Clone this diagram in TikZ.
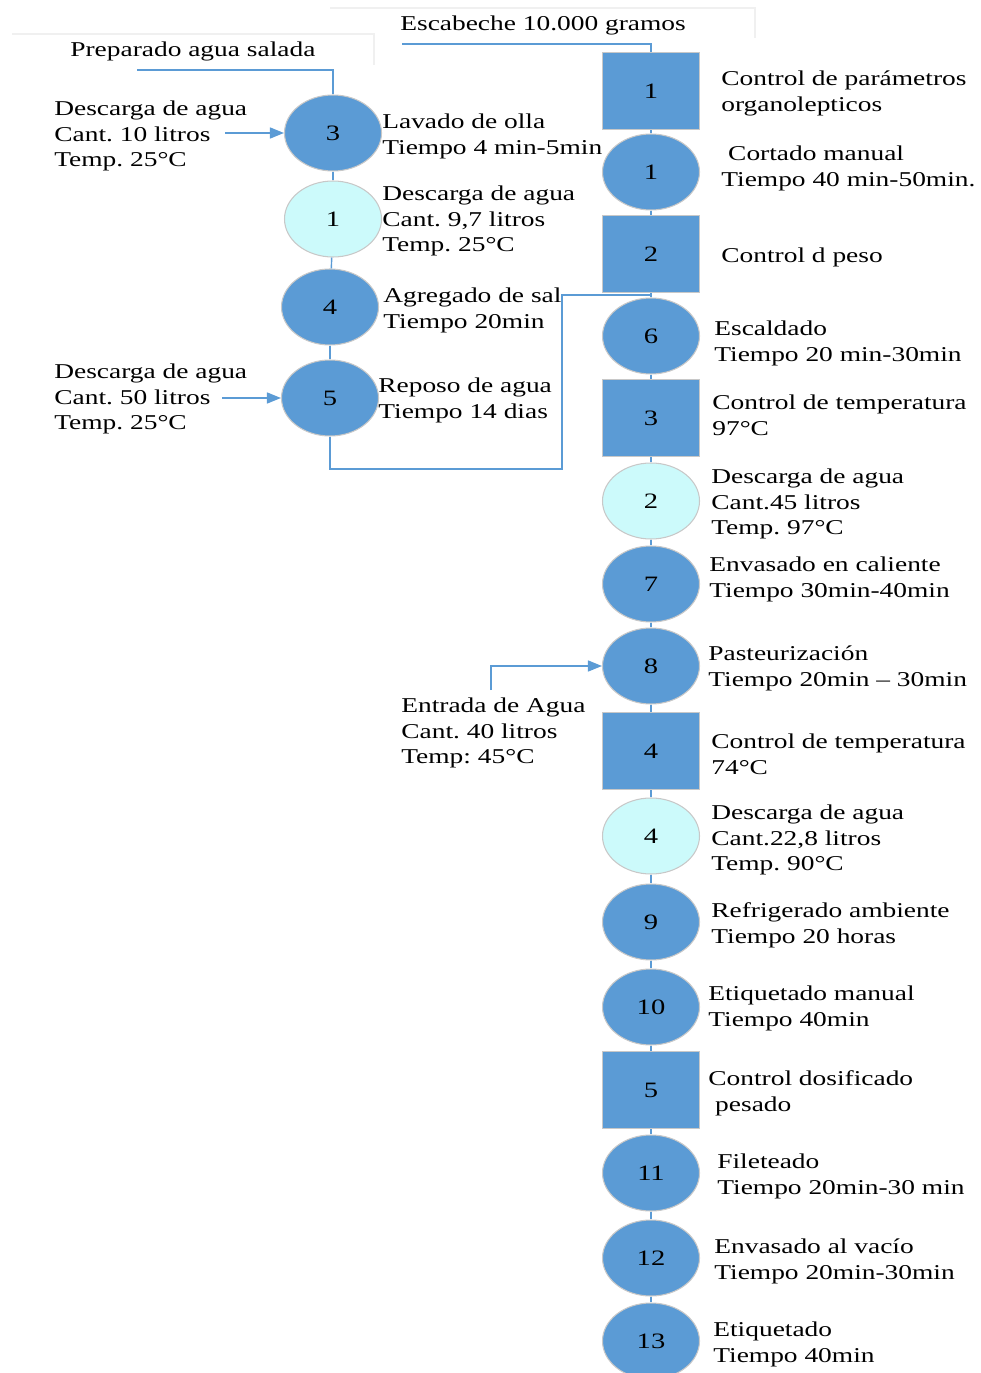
\documentclass[tikz,border=0pt]{standalone}
\usepackage{fontspec}
\setmainfont{Liberation Serif}[FakeStretch=1.3]
\frenchspacing
\usepackage{tikz}
\usetikzlibrary{arrows.meta, positioning, shapes.geometric}

\definecolor{stepblue}{HTML}{5B9BD5}
\definecolor{waterfill}{HTML}{CCFAFB}
\definecolor{rimgray}{HTML}{C8C8C8}

\begin{document}
\begin{tikzpicture}[
    proc/.style={ellipse, draw=rimgray, line width=0.6pt, fill=stepblue, minimum width=1.94cm, minimum height=1.52cm, inner sep=0pt, font=\fontsize{12.5}{14}\selectfont},
    discharge/.style={proc, fill=waterfill},
    check/.style={rectangle, draw=rimgray, line width=0.6pt, fill=stepblue, minimum width=1.94cm, minimum height=1.54cm, inner sep=0pt, font=\fontsize{12.5}{14}\selectfont},
    txt/.style={anchor=west, align=left, inner sep=0pt, yshift=-0.04cm, font=\fontsize{12}{14.74}\selectfont},
    link/.style={draw=stepblue, line width=0.8pt},
    flow/.style={link, -{Triangle[length=0.28cm, width=0.22cm]}},
    frame/.style={draw=gray!12, line width=0.6pt}
  ]
  \useasboundingbox (0,0) rectangle (19.6,-27.46);

  % faint text box borders
  \draw[frame] (0.24,-0.68) -- (7.48,-0.68) -- (7.48,-1.3);
  \draw[frame] (6.6,-0.16) -- (15.1,-0.16) -- (15.1,-0.76);

  % right column
  \node[check] (r-k1) at (13.02,-1.82) {1};
  \node[proc] (r-c1) at (13.02,-3.44) {1};
  \node[check] (r-k2) at (13.02,-5.08) {2};
  \node[proc] (r-c6) at (13.02,-6.72) {6};
  \node[check] (r-k3) at (13.02,-8.36) {3};
  \node[discharge] (r-d2) at (13.02,-10.02) {2};
  \node[proc] (r-c7) at (13.02,-11.68) {7};
  \node[proc] (r-c8) at (13.02,-13.32) {8};
  \node[check] (r-k4) at (13.02,-15.02) {4};
  \node[discharge] (r-d4) at (13.02,-16.72) {4};
  \node[proc] (r-c9) at (13.02,-18.44) {9};
  \node[proc] (r-c10) at (13.02,-20.14) {10};
  \node[check] (r-k5) at (13.02,-21.80) {5};
  \node[proc] (r-c11) at (13.02,-23.46) {11};
  \node[proc] (r-c12) at (13.02,-25.16) {12};
  \node[proc] (r-c13) at (13.02,-26.82) {13};

  % left column
  \node[proc] (l-c3) at (6.66,-2.66) {3};
  \node[discharge] (l-d1) at (6.66,-4.38) {1};
  \node[proc] (l-c4) at (6.60,-6.14) {4};
  \node[proc] (l-c5) at (6.60,-7.96) {5};

  \foreach \a/\b in {r-k1/r-c1, r-c1/r-k2, r-k2/r-c6, r-c6/r-k3, r-k3/r-d2, r-d2/r-c7,
      r-c7/r-c8, r-c8/r-k4, r-k4/r-d4, r-d4/r-c9, r-c9/r-c10, r-c10/r-k5, r-k5/r-c11,
      r-c11/r-c12, r-c12/r-c13, l-c3/l-d1, l-d1/l-c4, l-c4/l-c5}
    \draw[link] (\a) -- (\b);

  % feeds
  \coordinate (prep) at (2.74,-1.40);
  \coordinate (esc) at (8.04,-0.88);
  \coordinate (bend) at (11.24,-9.38);
  \coordinate (join) at (13.02,-5.90);
  \coordinate (in-a) at (4.50,-2.66);
  \coordinate (in-b) at (4.44,-7.96);
  \coordinate (inlet) at (9.82,-13.80);

  \draw[link] (prep) -| (l-c3);
  \draw[link] (esc) -| (r-k1);
  \draw[link] (l-c5.south) |- (bend) |- (join);
  \draw[flow] (in-a) -- (l-c3);
  \draw[flow] (in-b) -- (l-c5);
  \draw[flow] (inlet) |- (r-c8);

  % labels
  \node[txt] (t-prep) at (1.40,-0.98) {Preparado agua salada};
  \node[txt] (t-esc) at (8.00,-0.46) {Escabeche 10.000 gramos};
  \node[txt] (t-in10) at (1.08,-2.68) {Descarga de agua\\Cant. 10 litros\\Temp. 25°C};
  \node[txt] (t-l3) at (7.64,-2.68) {Lavado de olla\\Tiempo 4 min-5min};
  \node[txt] (t-l1) at (7.64,-4.38) {Descarga de agua\\Cant. 9,7 litros\\Temp. 25°C};
  \node[txt] (t-l4) at (7.66,-6.16) {Agregado de sal\\Tiempo 20min};
  \node[txt] (t-in50) at (1.08,-7.94) {Descarga de agua\\Cant. 50 litros\\Temp. 25°C};
  \node[txt] (t-l5) at (7.56,-7.96) {Reposo de agua\\Tiempo 14 dias};
  \node[txt] (t-inlet) at (8.02,-14.62) {Entrada de Agua\\Cant. 40 litros\\Temp: 45°C};

  \node[txt] (t-k1) at (14.42,-1.82) {Control de parámetros\\organolepticos};
  \node[txt] (t-c1) at (14.42,-3.32) {\ Cortado manual\\Tiempo 40 min-50min.};
  \node[txt] (t-k2) at (14.42,-5.10) {Control d peso};
  \node[txt] (t-c6) at (14.28,-6.82) {Escaldado\\Tiempo 20 min-30min};
  \node[txt] (t-k3) at (14.24,-8.26) {Control de temperatura\\97°C};
  \node[txt] (t-d2) at (14.22,-10.04) {Descarga de agua\\Cant.45 litros\\Temp. 97°C};
  \node[txt] (t-c7) at (14.18,-11.54) {Envasado en caliente\\Tiempo 30min-40min};
  \node[txt] (t-c8) at (14.16,-13.32) {Pasteurización\\Tiempo 20min – 30min};
  \node[txt] (t-k4) at (14.22,-15.04) {Control de temperatura\\74°C};
  \node[txt] (t-d4) at (14.22,-16.76) {Descarga de agua\\Cant.22,8 litros\\Temp. 90°C};
  \node[txt] (t-c9) at (14.22,-18.46) {Refrigerado ambiente\\Tiempo 20 horas};
  \node[txt] (t-c10) at (14.16,-20.12) {Etiquetado manual\\Tiempo 40min};
  \node[txt] (t-k5) at (14.16,-21.82) {Control dosificado\\\ pesado};
  \node[txt] (t-c11) at (14.34,-23.48) {Fileteado\\Tiempo 20min-30 min};
  \node[txt] (t-c12) at (14.28,-25.18) {Envasado al vacío\\Tiempo 20min-30min};
  \node[txt] (t-c13) at (14.26,-26.84) {Etiquetado\\Tiempo 40min};
\end{tikzpicture}
\end{document}
